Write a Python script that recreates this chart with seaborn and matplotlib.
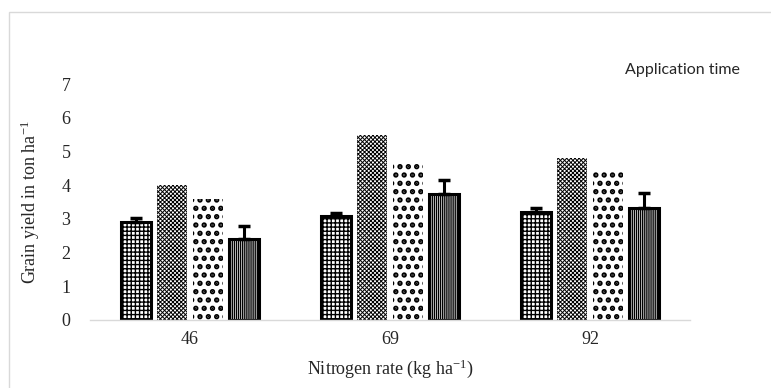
import pandas as pd
import seaborn as sns
import matplotlib.pyplot as plt
from matplotlib.patches import Rectangle

# values
rates = ['46', '69', '92']
times = ['T1', 'T2', 'T3', 'T4']
yield_t1 = [2.92, 3.07, 3.21]
yield_t2 = [4.00, 5.49, 4.81]
yield_t3 = [3.59, 4.63, 4.40]
yield_t4 = [2.40, 3.74, 3.32]
err_t1 = [0.11, 0.11, 0.11]
err_t4 = [0.39, 0.41, 0.45]

df = pd.DataFrame({
    'rate': rates * 4,
    'time': [t for t in times for _ in rates],
    'yield': yield_t1 + yield_t2 + yield_t3 + yield_t4,
})

sns.set_style('white')
plt.rcParams['font.family'] = ['Liberation Serif', 'DejaVu Serif']
plt.rcParams['mathtext.fontset'] = 'custom'
plt.rcParams['mathtext.rm'] = 'Liberation Serif'
plt.rcParams['mathtext.it'] = 'Liberation Serif:italic'
plt.rcParams['hatch.linewidth'] = 1.0

fig = plt.figure(figsize=(7.71, 3.88), dpi=100)
ax = fig.add_axes([90 / 771, (388 - 320) / 388, 600 / 771, 236 / 388])

sns.barplot(data=df, x='rate', y='yield', hue='time', order=rates, hue_order=times,
            width=0.72, gap=0.17, errorbar=None, legend=False, ax=ax,
            palette=['white'] * 4)

hatches = ['++++', 'xxxxxxxx', '..', '||||||||']
edges = [2.2, 0, 0, 2.2]
hatch_lw = [1.0, 0.7, 2.6, 1.0]
for cont, h, lw, hlw in zip(ax.containers, hatches, edges, hatch_lw):
    for p in cont:
        p.set_hatch(h)
        p.set_edgecolor('black')
        p.set_linewidth(lw)
        p.set_facecolor('white')
        try:
            p.set_hatch_linewidth(hlw)
        except AttributeError:
            pass

# error bars (upper part) on first and last series
for cont, err in [(ax.containers[0], err_t1), (ax.containers[3], err_t4)]:
    xs = [p.get_x() + p.get_width() / 2 for p in cont]
    ys = [p.get_height() for p in cont]
    ax.errorbar(xs, ys, yerr=[[0] * len(err), err], fmt='none', ecolor='black',
                elinewidth=2.2, capsize=4, capthick=2.5, zorder=5)

ax.set_ylim(0, 7)
ax.set_yticks(range(8))
ax.set_xlim(-0.5, 2.5)
for s in ['top', 'right', 'left']:
    ax.spines[s].set_visible(False)
ax.spines['bottom'].set_color('#d9d9d9')
ax.spines['bottom'].set_linewidth(1)
ax.tick_params(axis='both', length=0, labelsize=13, pad=14)
ax.tick_params(axis='x', pad=8)
ax.set_xlabel('Nitrogen rate (kg ha$^{\\mathrm{-1}}$)', fontsize=13, labelpad=7)
ax.set_ylabel('Grain yield in ton ha$^{\\mathrm{-1}}$', fontsize=13, labelpad=14)

fig.text(625 / 771, (388 - 70) / 388, 'Application time', fontsize=11.5,
         family=['Lato', 'DejaVu Sans'], va='center', ha='left')

fig.add_artist(Rectangle((9 / 771, -0.1), 1.1, (388 - 12) / 388 + 0.1,
                         transform=fig.transFigure, fill=False,
                         edgecolor='#d9d9d9', linewidth=1))

fig.savefig('out.png', dpi=100)
